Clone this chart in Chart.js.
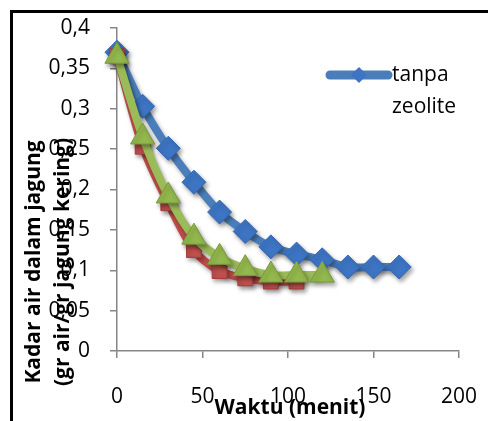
<!DOCTYPE html>
<html>
<head>
<meta charset="utf-8">
<script src="https://cdn.jsdelivr.net/npm/chart.js@4.4.1/dist/chart.umd.min.js"></script>
<style>
  html, body { margin: 0; padding: 0; background: #fff; }
  #wrap { width: 488px; height: 421px; position: relative; }
</style>
</head>
<body>
<div id="wrap"><canvas id="chart" width="488" height="421"></canvas></div>
<script>
// Drying curve: moisture of corn vs time

// Time (menit)
const waktuBlue = [0, 15, 30, 45, 60, 75, 90, 105, 120, 135, 150, 165];
const waktuRed = [0, 15, 30, 45, 60, 75, 90, 105];
const waktuGreen = [0, 15, 30, 45, 60, 75, 90, 105, 120];

// Kadar air (gr air / gr jagung kering)
const tanpaZeolite = [0.370, 0.303, 0.251, 0.209, 0.172, 0.148, 0.129, 0.120, 0.113, 0.104, 0.104, 0.104];
const seriMerah = [0.365, 0.253, 0.183, 0.125, 0.099, 0.090, 0.086, 0.086];
const seriHijau = [0.365, 0.265, 0.192, 0.141, 0.116, 0.102, 0.094, 0.094, 0.094];

const xTicks = [0, 50, 100, 150, 200];

const FONT = "'Open Sans', 'Liberation Sans', sans-serif";

function toPoints(xs, ys) {
  return xs.map((x, i) => ({ x: x, y: ys[i] }));
}

// frame round the whole chart
const framePlugin = {
  id: 'frame',
  beforeDraw(chart) {
    const ctx = chart.ctx;
    ctx.save();
    ctx.fillStyle = '#fff';
    ctx.fillRect(0, 0, chart.width, chart.height);
    ctx.strokeStyle = '#000';
    ctx.lineWidth = 3;
    ctx.strokeRect(11.5, 11.5, chart.width + 50, chart.height + 50);
    ctx.restore();
  }
};

// soft shadow under the series, like the Excel original
const shadowPlugin = {
  id: 'shadow',
  beforeDatasetsDraw(chart) {
    const ctx = chart.ctx;
    ctx.save();
    ctx.shadowColor = 'rgba(0,0,0,0.35)';
    ctx.shadowBlur = 4;
    ctx.shadowOffsetX = 2;
    ctx.shadowOffsetY = 3;
  },
  afterDatasetsDraw(chart) {
    chart.ctx.restore();
  }
};

// axis titles (they overlap the tick labels in the original) and legend
const textPlugin = {
  id: 'texts',
  afterDraw(chart) {
    const ctx = chart.ctx;
    const area = chart.chartArea;
    ctx.save();
    ctx.fillStyle = '#000';
    ctx.textAlign = 'center';
    ctx.textBaseline = 'middle';

    // x title
    ctx.font = 'bold 21px ' + FONT;
    ctx.fillText('Waktu (menit)', area.left + 173, area.bottom + 57);

    // y title, two lines
    ctx.save();
    ctx.translate(area.left - 68, area.bottom - 89);
    ctx.rotate(-Math.PI / 2);
    ctx.fillText('Kadar air dalam jagung', 0, -15);
    ctx.fillText('(gr air/gr jagung kering)', 0, 14);
    ctx.restore();

    // legend (only the first series is visible in the original)
    const ds = chart.data.datasets[0];
    const ly = area.top + 47;
    const lx = area.left + 213;
    ctx.strokeStyle = ds.borderColor;
    ctx.lineWidth = 9;
    ctx.lineCap = 'round';
    ctx.beginPath();
    ctx.moveTo(lx, ly);
    ctx.lineTo(lx + 58, ly);
    ctx.stroke();
    ctx.fillStyle = ds.pointBackgroundColor;
    ctx.beginPath();
    ctx.moveTo(lx + 29, ly - 8);
    ctx.lineTo(lx + 37, ly);
    ctx.lineTo(lx + 29, ly + 8);
    ctx.lineTo(lx + 21, ly);
    ctx.closePath();
    ctx.fill();

    ctx.fillStyle = '#000';
    ctx.font = '21px ' + FONT;
    ctx.textAlign = 'left';
    ctx.fillText('tanpa', lx + 62, ly);
    ctx.fillText('zeolite', lx + 62, ly + 32);
    ctx.restore();
  }
};

new Chart(document.getElementById('chart'), {
  type: 'line',
  data: {
    datasets: [
      {
        label: 'tanpa zeolite',
        data: toPoints(waktuBlue, tanpaZeolite),
        borderColor: '#4a7ebb',
        borderWidth: 8,
        pointStyle: 'rectRot',
        pointRadius: 12,
        pointBackgroundColor: '#3d75c4',
        pointBorderColor: '#3568b0',
        pointBorderWidth: 1,
        tension: 0.3,
        clip: false,
        order: 3
      },
      {
        label: 'seri 2',
        data: toPoints(waktuRed, seriMerah),
        borderColor: '#be4b48',
        borderWidth: 8,
        pointStyle: 'rect',
        pointRadius: 10.5,
        pointBackgroundColor: '#c0504d',
        pointBorderColor: '#a33e3b',
        pointBorderWidth: 1,
        tension: 0.3,
        clip: false,
        order: 2
      },
      {
        label: 'seri 3',
        data: toPoints(waktuGreen, seriHijau),
        borderColor: '#9bbb59',
        borderWidth: 8,
        pointStyle: 'triangle',
        pointRadius: 14,
        pointBackgroundColor: '#93b84d',
        pointBorderColor: '#7a9a3e',
        pointBorderWidth: 1,
        tension: 0.3,
        clip: false,
        order: 1
      }
    ]
  },
  plugins: [framePlugin, shadowPlugin, textPlugin],
  options: {
    responsive: false,
    animation: false,
    layout: { padding: { top: 28, right: 29, left: 0, bottom: 0 } },
    plugins: {
      legend: { display: false },
      tooltip: { enabled: false }
    },
    scales: {
      x: {
        type: 'linear',
        min: 0,
        max: 200,
        afterFit(scale) {
          scale.height = 70;
          scale.paddingLeft = 0;
          scale.paddingRight = 0;
        },
        afterBuildTicks(scale) { scale.ticks = xTicks.map(v => ({ value: v })); },
        grid: {
          display: true,
          drawOnChartArea: false,
          drawTicks: true,
          tickLength: 7,
          color: '#868686',
          lineWidth: 1.5
        },
        border: { display: true, color: '#868686', width: 1.5 },
        ticks: {
          color: '#000',
          padding: 26,
          maxRotation: 0,
          font: { family: FONT, size: 21 }
        }
      },
      y: {
        min: 0,
        max: 0.4,
        afterFit(scale) {
          scale.width = 117;
          scale.paddingTop = 0;
          scale.paddingBottom = 0;
        },
        grid: {
          display: true,
          drawOnChartArea: false,
          drawTicks: true,
          tickLength: 7,
          color: '#868686',
          lineWidth: 1.5
        },
        border: { display: true, color: '#868686', width: 1.5 },
        ticks: {
          stepSize: 0.05,
          color: '#000',
          padding: 20,
          font: { family: FONT, size: 21 },
          callback: v => String(Math.round(v * 100) / 100).replace('.', ',')
        }
      }
    }
  }
});
</script>
</body>
</html>
